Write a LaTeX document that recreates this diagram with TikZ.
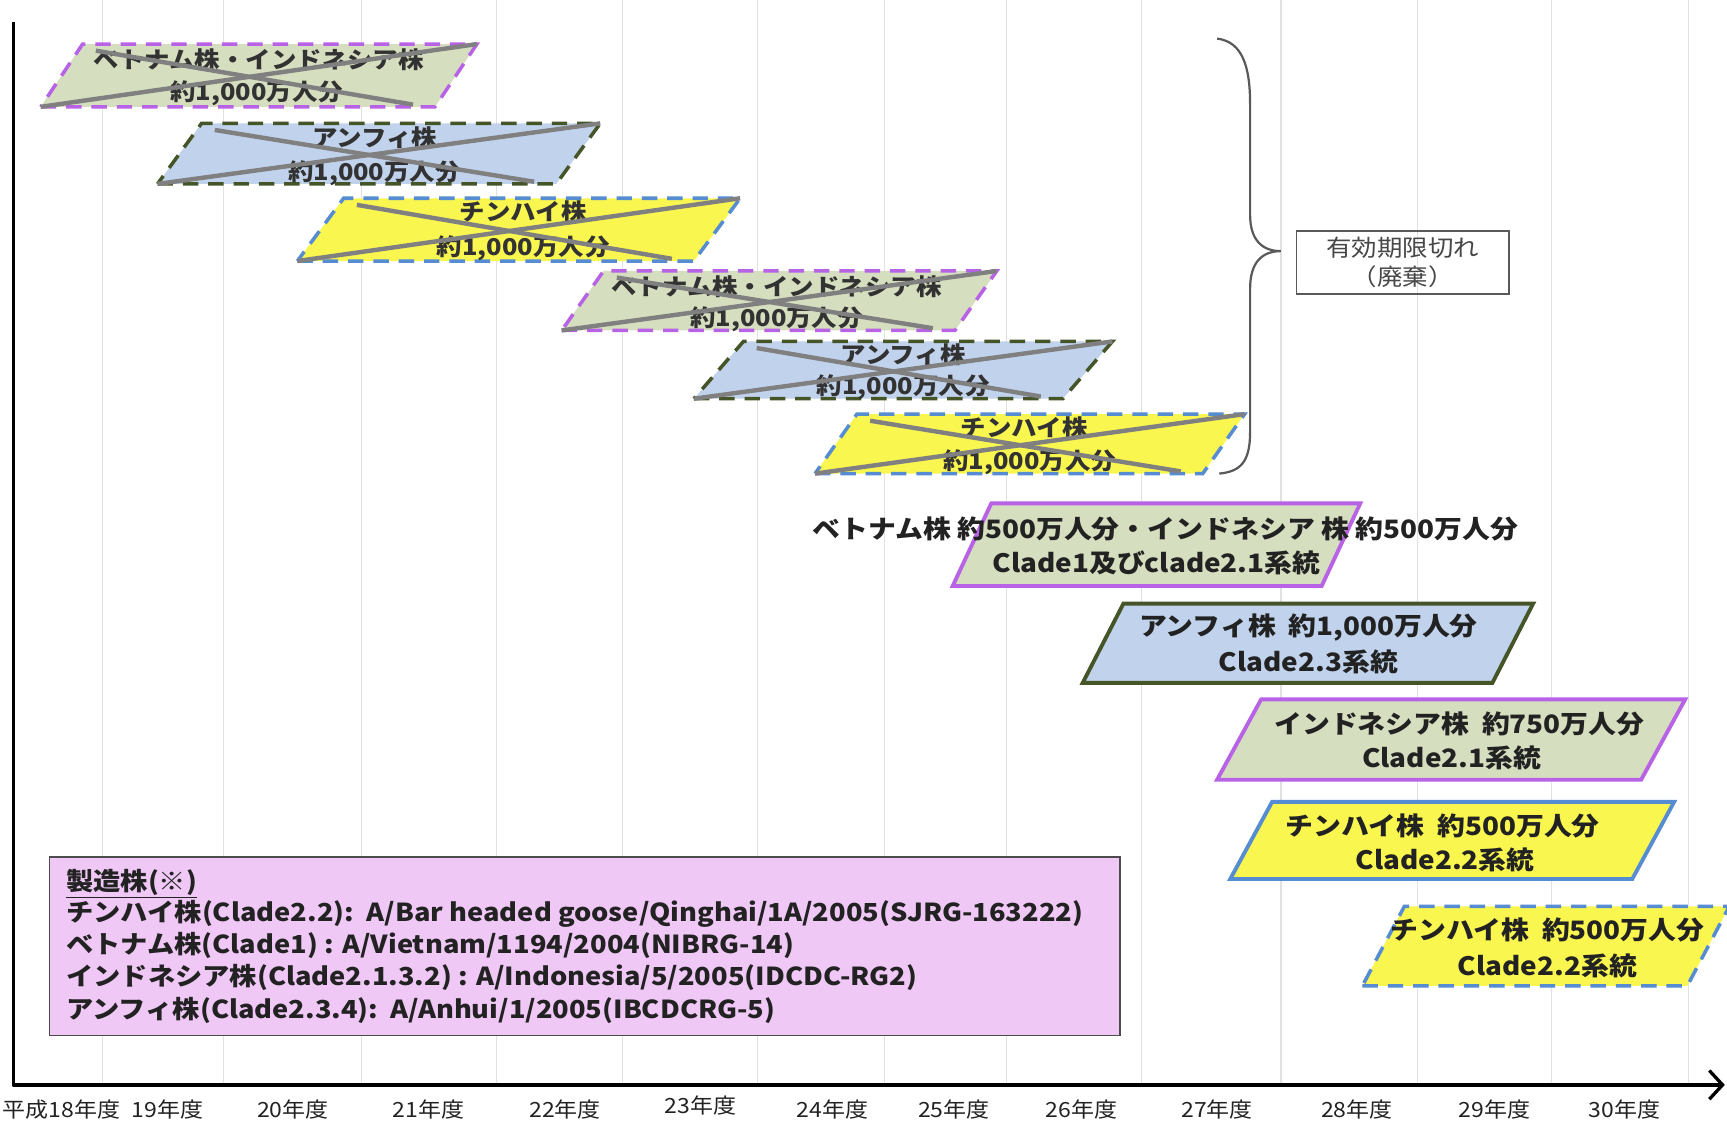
\documentclass[tikz,border=0pt]{standalone}
\usepackage{fontspec}
\setmainfont{Noto Sans CJK JP}[FakeStretch=1.1]
\usetikzlibrary{arrows.meta,calc}
\definecolor{gridgray}{RGB}{225,225,225}
\definecolor{gfill}{RGB}{214,222,192}
\definecolor{bfill}{RGB}{193,211,236}
\definecolor{yfill}{RGB}{250,246,80}
\definecolor{purp}{RGB}{184,98,230}
\definecolor{dgreen}{RGB}{70,85,40}
\definecolor{bline}{RGB}{85,140,210}
\definecolor{crossgray}{RGB}{128,128,128}
\definecolor{legfill}{RGB}{240,200,246}
\definecolor{txt}{RGB}{34,34,34}
\definecolor{oldtxt}{RGB}{50,50,50}
\tikzset{
  gridline/.style={draw=gridgray, line width=1pt},
  axisline/.style={draw=black, line width=3pt, line join=round},
  oldgreen/.style={fill=gfill, draw=purp, line width=3.2pt, dash pattern=on 14pt off 9pt},
  oldblue/.style={fill=bfill, draw=dgreen, line width=3.2pt, dash pattern=on 14pt off 9pt},
  oldyellow/.style={fill=yfill, draw=bline, line width=3.2pt, dash pattern=on 14pt off 9pt},
  newgreen/.style={fill=gfill, draw=purp, line width=3.5pt},
  newblue/.style={fill=bfill, draw=dgreen, line width=3.5pt},
  newyellow/.style={fill=yfill, draw=bline, line width=3.5pt},
  dashyellow/.style={fill=yfill, draw=bline, line width=3.2pt, dash pattern=on 14pt off 9pt},
  crossline/.style={draw=crossgray, line width=4pt},
  oldlabel/.style={text=oldtxt, font=\fontsize{21}{25}\selectfont\bfseries, align=center, inner sep=0pt},
  newlabel/.style={text=txt, font=\fontsize{23}{27}\selectfont\bfseries, align=center, inner sep=0pt},
  yearlabel/.style={text=txt, font=\fontsize{19}{21}\selectfont, inner sep=0pt},
  legtext/.style={text=txt, font=\fontsize{22.5}{26}\selectfont\bfseries, anchor=west, inner sep=0pt},
}
\newcommand\pgram[6]{\path (#2,#3) coordinate (#1-bl) ++(#4,0) coordinate (#1-br) ++(#6,-#5) coordinate (#1-tr) ++(-#4,0) coordinate (#1-tl);}
\newcommand\pgdraw[2]{\draw[#2] (#1-bl) -- (#1-br) -- (#1-tr) -- (#1-tl) -- cycle;}
\newcommand\pgcross[1]{\draw[crossline] (#1-bl) -- (#1-tr); \draw[crossline] ($(#1-tl)+(12,6)$) -- ($(#1-br)+(-20,-2)$);}
\begin{document}
\begin{tikzpicture}[x=1pt,y=-1pt]
\useasboundingbox (0,0) rectangle (1568,1018);
\clip (0,0) rectangle (1568,1018);
\fill[white] (0,0) rectangle (1568,1018);
% grid
\foreach \gx in {93,203,328,451,565,688,803,914,1036,1163,1287,1409,1533}
  \draw[gridline] (\gx,0) -- (\gx,985);
% axes
\coordinate (ytop) at (12,20);
\coordinate (org) at (12,985);
\coordinate (xend) at (1566,985);
\draw[axisline, -{Straight Barb[length=12pt,width=26pt,line width=3pt]}] (ytop) -- (org) -- (xend);
% year labels
\node[yearlabel] (y18) at (56,1007) {平成18年度};
\node[yearlabel] (y19) at (152,1007) {19年度};
\node[yearlabel] (y20) at (266,1007) {20年度};
\node[yearlabel] (y21) at (389,1007) {21年度};
\node[yearlabel] (y22) at (513,1007) {22年度};
\node[yearlabel] (y23) at (636,1004) {23年度};
\node[yearlabel] (y24) at (756,1007) {24年度};
\node[yearlabel] (y25) at (866,1007) {25年度};
\node[yearlabel] (y26) at (982,1007) {26年度};
\node[yearlabel] (y27) at (1105,1007) {27年度};
\node[yearlabel] (y28) at (1232,1007) {28年度};
\node[yearlabel] (y29) at (1357,1007) {29年度};
\node[yearlabel] (y30) at (1475,1007) {30年度};
% expired stock
\pgram{pa}{37}{97}{358}{57}{38}
\pgdraw{pa}{oldgreen}
\node[oldlabel] (ta1) at (235,54) {ベトナム株・インドネシア株};
\node[oldlabel] (ta2) at (233,85) {約1,000万人分};
\pgcross{pa}
\pgram{pb}{143}{167}{362}{55}{40}
\pgdraw{pb}{oldblue}
\node[oldlabel] (tb1) at (340,125) {アンフィ株};
\node[oldlabel] (tb2) at (340,157) {約1,000万人分};
\pgcross{pb}
\pgram{pc}{270}{237}{360}{57}{42}
\pgdraw{pc}{oldyellow}
\node[oldlabel] (tc1) at (475,192) {チンハイ株};
\node[oldlabel] (tc2) at (475,225) {約1,000万人分};
\pgcross{pc}
\pgram{pd}{510}{300}{357}{54}{38}
\pgdraw{pd}{oldgreen}
\node[oldlabel] (td1) at (705,260) {ベトナム株・インドネシア株};
\node[oldlabel] (td2) at (705,290) {約1,000万人分};
\pgcross{pd}
\pgram{pe}{630}{362}{335}{52}{45}
\pgdraw{pe}{oldblue}
\node[oldlabel] (te1) at (820,322) {アンフィ株};
\node[oldlabel] (te2) at (820,352) {約1,000万人分};
\pgcross{pe}
\pgram{pf}{740}{430}{352}{54}{38}
\pgdraw{pf}{oldyellow}
\node[oldlabel] (tf1) at (930,388) {チンハイ株};
\node[oldlabel] (tf2) at (935,420) {約1,000万人分};
\pgcross{pf}
% brace and note
\draw[draw=black!65, line width=2pt] (1105,35) .. controls (1128,38) and (1135,60) .. (1135,95) -- (1135,195) .. controls (1135,218) and (1146,228) .. (1163,228) .. controls (1146,228) and (1135,238) .. (1135,262) -- (1135,392) .. controls (1135,420) and (1126,428) .. (1107,430);
\node[draw=black!65, line width=1.5pt, minimum width=193pt, minimum height=57pt, inner sep=0pt] (note) at (1273.5,238.5) {};
\node[text=black!72, font=\fontsize{21}{26}\selectfont, align=center, inner sep=0pt] (notet) at (note.center) {有効期限切れ\\（廃棄）};
% current stock
\pgram{sa}{865}{532}{335}{75}{35}
\pgdraw{sa}{newgreen}
\node[newlabel] (sa1) at (1058,480) {ベトナム株 約500万人分・インドネシア 株 約500万人分};
\node[newlabel] (sa2) at (1050,511) {Clade1及びclade2.1系統};
\pgram{sb}{983}{620}{372}{72}{37}
\pgdraw{sb}{newblue}
\node[newlabel] (sb1) at (1188,570) {アンフィ株\ \ 約1,000万人分};
\node[newlabel] (sb2) at (1188,601) {Clade2.3系統};
\pgram{sc}{1105}{708}{385}{73}{40}
\pgdraw{sc}{newgreen}
\node[newlabel] (sc1) at (1325,657) {インドネシア株\ \ 約750万人分};
\node[newlabel] (sc2) at (1318,688) {Clade2.1系統};
\pgram{sd}{1117}{798}{365}{70}{38}
\pgdraw{sd}{newyellow}
\node[newlabel] (sd1) at (1310,750) {チンハイ株\ \ 約500万人分};
\node[newlabel] (sd2) at (1312,781) {Clade2.2系統};
\pgram{se}{1237}{895}{295}{72}{38}
\pgdraw{se}{dashyellow}
\node[newlabel] (se1) at (1405,844) {チンハイ株\ \ 約500万人分};
\node[newlabel] (se2) at (1405,877) {Clade2.2系統};
% legend
\node[fill=legfill, draw=black!70, line width=1.5pt, minimum width=972pt, minimum height=162pt, inner sep=0pt] (legend) at (531,859) {};
\node[legtext] (l0) at (60,802) {\underline{製造株(※)}};
\node[legtext] (l1) at (60,830) {チンハイ株(Clade2.2):\ \ A/Bar headed goose/Qinghai/1A/2005(SJRG-163222)};
\node[legtext] (l2) at (60,858) {ベトナム株(Clade1) : A/Vietnam/1194/2004(NIBRG-14)};
\node[legtext] (l3) at (60,887) {インドネシア株(Clade2.1.3.2) : A/Indonesia/5/2005(IDCDC-RG2)};
\node[legtext] (l4) at (60,917) {アンフィ株(Clade2.3.4):\ \ A/Anhui/1/2005(IBCDCRG-5)};
\end{tikzpicture}
\end{document}
